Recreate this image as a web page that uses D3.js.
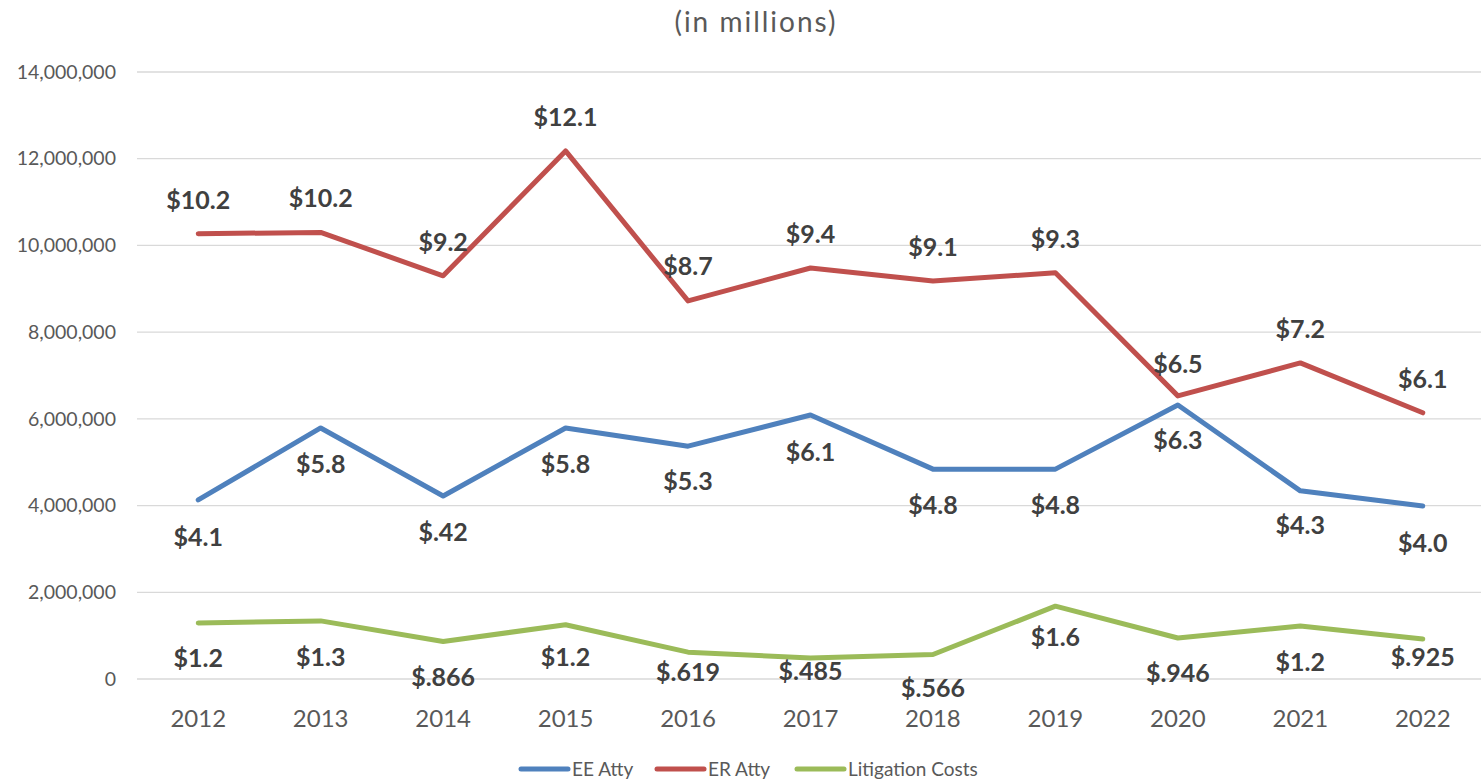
<!doctype html>
<html>
<head>
<meta charset="utf-8">
<style>
  body { margin: 0; background: #fff; }
  text { font-family: Lato, "Noto Sans", sans-serif; }
</style>
</head>
<body>
  <svg id="chart"></svg>
<script src="https://d3js.org/d3.v7.min.js"></script>
<script>
  const years = [2012, 2013, 2014, 2015, 2016, 2017, 2018, 2019, 2020, 2021, 2022];
  const eeAtty = [4130000, 5790000, 4220000, 5790000, 5370000, 6090000, 4840000, 4840000, 6320000, 4340000, 3990000];
  const erAtty = [10270000, 10300000, 9300000, 12180000, 8720000, 9480000, 9180000, 9370000, 6530000, 7290000, 6140000];
  const litigation = [1290000, 1340000, 866000, 1250000, 619000, 485000, 566000, 1680000, 946000, 1220000, 925000];
  const eeLabels = ["$4.1", "$5.8", "$.42", "$5.8", "$5.3", "$6.1", "$4.8", "$4.8", "$6.3", "$4.3", "$4.0"];
  const erLabels = ["$10.2", "$10.2", "$9.2", "$12.1", "$8.7", "$9.4", "$9.1", "$9.3", "$6.5", "$7.2", "$6.1"];
  const litLabels = ["$1.2", "$1.3", "$.866", "$1.2", "$.619", "$.485", "$.566", "$1.6", "$.946", "$1.2", "$.925"];
  const yTicks = [0, 2000000, 4000000, 6000000, 8000000, 10000000, 12000000, 14000000];

  // label distance from point (negative = above); a few were nudged by hand in the original
  const erOffset = [-34, -34, -34, -34, -35, -34, -34, -34, -32, -34, -34];
  const eeOffset = [37, 36, 36, 36, 35, 37, 36, 36, 35, 34, 37];
  const litOffset = [35, 36, 36, 32, 20, 13, 34, 31, 35, 36, 18];

  const series = [
    { name: "EE Atty", values: eeAtty, labels: eeLabels, color: "#4F81BD", off: eeOffset },
    { name: "ER Atty", values: erAtty, labels: erLabels, color: "#C0504D", off: erOffset },
    { name: "Litigation Costs", values: litigation, labels: litLabels, color: "#9BBB59", off: litOffset }
  ];

  const width = 1481, height = 782;
  const svg = d3.select("#chart").attr("width", width).attr("height", height);

  const x = d3.scaleBand().domain(years).range([137, 1484]);
  const y = d3.scaleLinear().domain([0, 14000000]).range([679, 72]);
  const cx = d => x(d) + x.bandwidth() / 2;

  // title
  svg.append("text")
    .attr("x", 756).attr("y", 32)
    .attr("text-anchor", "middle")
    .attr("font-size", 28)
    .attr("letter-spacing", 2)
    .attr("fill", "#595959")
    .text("(in millions)");

  // gridlines
  svg.append("g")
    .selectAll("line")
    .data(yTicks)
    .enter()
    .append("line")
    .attr("x1", 137).attr("x2", width)
    .attr("y1", d => y(d)).attr("y2", d => y(d))
    .attr("stroke", "#d9d9d9")
    .attr("stroke-width", 1.3);

  // y axis labels
  const yAxis = d3.axisLeft(y).tickValues(yTicks).tickSize(0).tickPadding(0)
    .tickFormat(d3.format(","));
  const gy = svg.append("g").attr("transform", "translate(116,0)").call(yAxis);
  gy.select(".domain").remove();
  gy.selectAll("text")
    .attr("font-family", "Lato, 'Noto Sans', sans-serif")
    .attr("font-size", 19.5)
    .attr("fill", "#595959");

  // x axis labels
  const xAxis = d3.axisBottom(x).tickSize(0).tickPadding(0);
  const gx = svg.append("g").attr("transform", "translate(0,710)").call(xAxis);
  gx.select(".domain").remove();
  gx.selectAll("text")
    .attr("font-family", "Lato, 'Noto Sans', sans-serif")
    .attr("font-size", 24)
    .attr("fill", "#595959");

  // lines
  const line = d3.line()
    .x((d, i) => cx(years[i]))
    .y(d => y(d));

  series.forEach(s => {
    svg.append("path")
      .datum(s.values)
      .attr("d", line)
      .attr("fill", "none")
      .attr("stroke", s.color)
      .attr("stroke-width", 5)
      .attr("stroke-linejoin", "round")
      .attr("stroke-linecap", "round");
  });

  // data labels
  series.forEach(s => {
    svg.append("g")
      .selectAll("text")
      .data(s.values)
      .enter()
      .append("text")
      .attr("x", (d, i) => cx(years[i]))
      .attr("y", (d, i) => y(d) + s.off[i])
      .attr("dy", "0.36em")
      .attr("text-anchor", "middle")
      .attr("font-size", 25)
      .attr("font-weight", "bold")
      .attr("fill", "#404040")
      .text((d, i) => s.labels[i]);
  });

  // legend
  const legendX = [521, 657, 797];
  const legend = svg.append("g");
  series.forEach((s, i) => {
    legend.append("line")
      .attr("x1", legendX[i]).attr("x2", legendX[i] + 47)
      .attr("y1", 769).attr("y2", 769)
      .attr("stroke", s.color)
      .attr("stroke-width", 5)
      .attr("stroke-linecap", "round");
    legend.append("text")
      .attr("x", legendX[i] + 51).attr("y", 769)
      .attr("dy", "0.36em")
      .attr("font-size", 19)
      .attr("fill", "#595959")
      .text(s.name);
  });
</script>
</body>
</html>
